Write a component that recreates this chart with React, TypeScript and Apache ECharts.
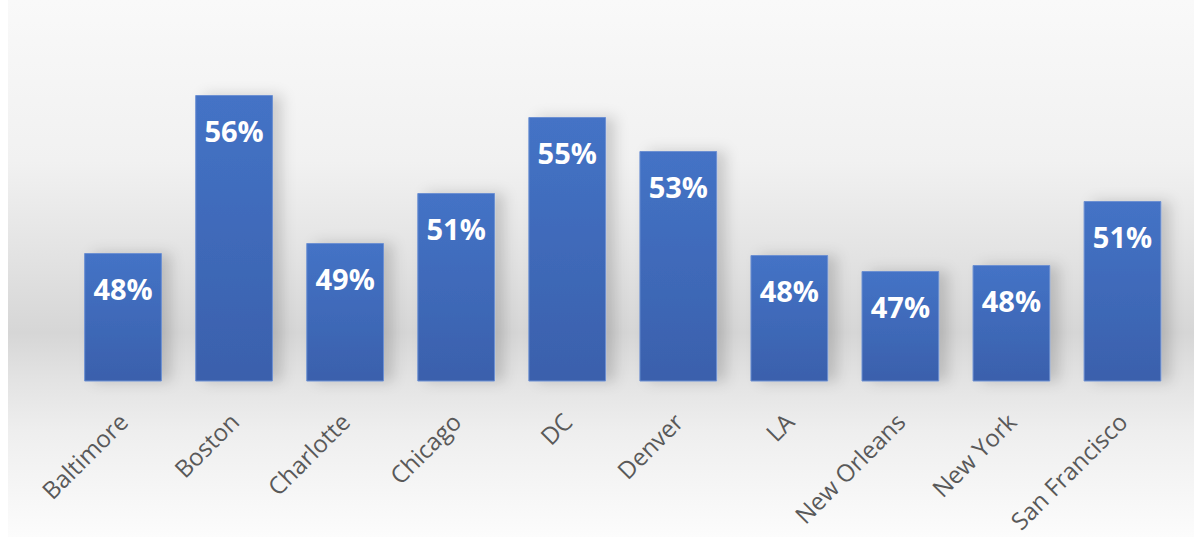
import React, { useEffect, useRef } from "react";
import * as echarts from "echarts";

const cities = ["Baltimore", "Boston", "Charlotte", "Chicago", "DC", "Denver", "LA", "New Orleans", "New York", "San Francisco"];
const shares = [48.3, 56.2, 48.8, 51.3, 55.1, 53.4, 48.2, 47.4, 47.7, 50.9];

export default function App() {
  const ref = useRef<HTMLDivElement>(null);
  useEffect(() => {
    const chart = echarts.init(ref.current!, null, { renderer: "svg" });
    chart.setOption({
      animation: false,
      graphic: [
        {
          type: "rect",
          z: -10,
          silent: true,
          shape: { x: 0, y: 0, width: 1186, height: 537 },
          style: {
            fill: new echarts.graphic.LinearGradient(0, 0, 0, 1, [
              { offset: 0, color: "#f9f9f9" },
              { offset: 0.3, color: "#f1f1f1" },
              { offset: 0.45, color: "#e5e5e5" },
              { offset: 0.62, color: "#d6d6d6" },
              { offset: 0.7, color: "#e2e2e2" },
              { offset: 0.8, color: "#eeeeee" },
              { offset: 1, color: "#fcfcfc" },
            ]),
          },
        },
      ],
      grid: {
        left: 59.5,
        right: 16,
        top: 19,
        bottom: 158,
        containLabel: false,
        outerBoundsMode: "none",
      },
      xAxis: {
        type: "category",
        data: cities,
        axisLine: { show: false },
        axisTick: { show: false },
        axisLabel: {
          rotate: 45,
          margin: 36,
          interval: 0,
          color: "#595959",
          fontFamily: "Open Sans",
          fontSize: 24,
        },
      },
      yAxis: {
        type: "value",
        min: 41.9,
        max: 60,
        show: false,
        splitLine: { show: false },
      },
      series: [
        {
          type: "bar",
          data: shares,
          barCategoryGap: "30%",
          itemStyle: {
            color: new echarts.graphic.LinearGradient(0, 0, 0, 1, [
              { offset: 0, color: "#4473c6" },
              { offset: 1, color: "#3a60ac" },
            ]),
            borderColor: "#6d90d2",
            borderWidth: 1,
            shadowColor: "rgba(0,0,0,0.16)",
            shadowBlur: 14,
            shadowOffsetX: 9,
            shadowOffsetY: 0,
          },
          label: {
            show: true,
            position: "insideTop",
            distance: 21,
            color: "#ffffff",
            fontFamily: "Open Sans",
            fontWeight: "bold",
            fontSize: 29,
            formatter: (p: any) => Math.round(p.value) + "%",
          },
        },
      ],
    });
    return () => chart.dispose();
  }, []);
  return (
    <div
      ref={ref}
      style={{ position: "absolute", left: 8, top: 0, width: 1186, height: 539, overflow: "hidden" }}
    />
  );
}
